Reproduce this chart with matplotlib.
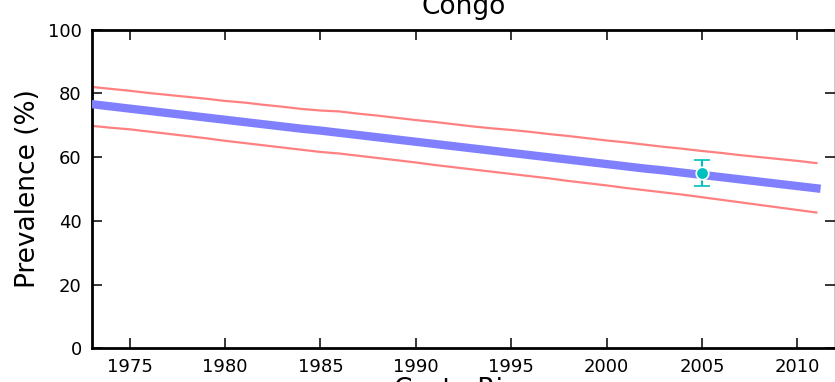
import matplotlib
matplotlib.use("Agg")
import matplotlib.pyplot as plt

years = list(range(1973, 2012))
mid = [76.6, 75.9, 75.2, 74.5, 73.8, 73.1, 72.4, 71.7, 71.0, 70.3,
       69.6, 68.9, 68.3, 67.6, 66.9, 66.2, 65.5, 64.8, 64.1, 63.4,
       62.7, 62.0, 61.3, 60.6, 59.9, 59.2, 58.5, 57.8, 57.1, 56.4,
       55.8, 55.1, 54.4, 53.7, 53.0, 52.3, 51.6, 50.9, 50.2]
upper = [82.0, 81.4, 80.8, 80.1, 79.5, 78.9, 78.3, 77.6, 77.1, 76.4,
         75.8, 75.1, 74.6, 74.3, 73.6, 73.0, 72.3, 71.6, 71.0, 70.3,
         69.6, 69.0, 68.5, 67.9, 67.2, 66.6, 65.9, 65.2, 64.6, 63.9,
         63.2, 62.6, 61.9, 61.3, 60.6, 60.0, 59.4, 58.8, 58.1]
lower = [69.8, 69.2, 68.7, 68.0, 67.3, 66.6, 65.9, 65.1, 64.4, 63.7,
         63.0, 62.3, 61.6, 61.1, 60.4, 59.7, 59.0, 58.3, 57.5, 56.8,
         56.1, 55.4, 54.7, 54.0, 53.3, 52.5, 51.8, 51.1, 50.3, 49.6,
         48.9, 48.2, 47.4, 46.6, 45.8, 45.0, 44.2, 43.4, 42.6]
obs_year = [2005]
obs_val = [55.0]
obs_err = [4.0]

xticks = [1975, 1980, 1985, 1990, 1995, 2000, 2005, 2010]
yticks = [0, 20, 40, 60, 80, 100]

fig = plt.figure(figsize=(8.35, 3.82), dpi=100)
ax = fig.add_axes([91.5 / 835, 33.7 / 382, 744 / 835, 318.75 / 382])

ax.plot(years, upper, color="#ff8080", lw=1.6, zorder=2)
ax.plot(years, lower, color="#ff8080", lw=1.6, zorder=2)
ax.plot(years, mid, color="#8080ff", lw=6, zorder=3)
ax.errorbar(obs_year, obs_val, yerr=obs_err, fmt="o", color="#00bfbf",
            mec="white", mew=1.2, ms=9, ecolor="#00bfbf", elinewidth=1.5,
            capsize=6, capthick=1.5, zorder=4)

ax.set_xlim(1973, 2012)
ax.set_ylim(0, 100)
ax.set_xticks(xticks)
ax.set_yticks(yticks)
ax.tick_params(direction="in", length=7, width=1.1, pad=7, labelsize=13,
               top=True, right=True)
for side in ["left", "bottom", "top"]:
    ax.spines[side].set_linewidth(2.0)
ax.spines["right"].set_linewidth(1.0)

ax.set_title("Congo", fontsize=19, pad=11)
ax.set_ylabel("Prevalence (%)", fontsize=19, labelpad=5)
ax.set_xlabel("Costa Rica", fontsize=19, labelpad=1)

fig.savefig("out.png", dpi=100)
